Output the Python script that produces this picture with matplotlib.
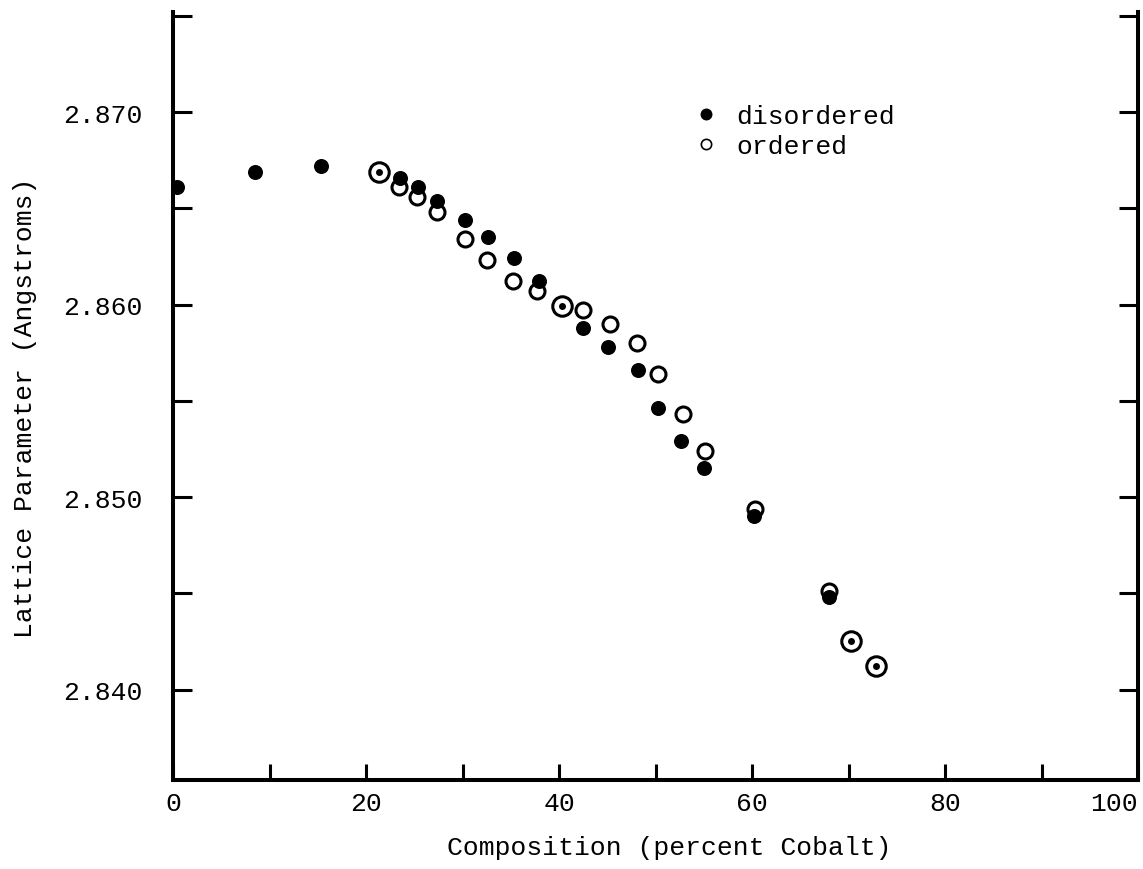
import matplotlib.pyplot as plt
from matplotlib.lines import Line2D

plt.rcParams['font.family'] = ['Liberation Mono', 'DejaVu Sans Mono']

# composition (percent Cobalt) / lattice parameter (Angstroms)
dis_x = [0.4, 8.5, 15.3, 23.5, 25.4, 27.4, 30.3, 32.6, 35.3, 37.9, 42.5,
         45.1, 48.2, 50.3, 52.6, 55.0, 60.2, 68.0]
dis_y = [2.8661, 2.8669, 2.8672, 2.8666, 2.8661, 2.8654, 2.8644, 2.8635,
         2.8624, 2.8612, 2.8588, 2.8578, 2.8566, 2.8546, 2.8529, 2.8515,
         2.8490, 2.8448]

ord_x = [23.4, 25.3, 27.3, 30.3, 32.5, 35.2, 37.7, 42.5, 45.3, 48.1, 50.3,
         52.8, 55.1, 60.3, 68.0]
ord_y = [2.8661, 2.8656, 2.8648, 2.8634, 2.8623, 2.8612, 2.8607, 2.8597,
         2.8590, 2.8580, 2.8564, 2.8543, 2.8524, 2.8494, 2.8451]

# points where ordered and disordered coincide
both_x = [21.3, 40.3, 70.2, 72.8]
both_y = [2.8669, 2.8599, 2.8425, 2.8412]

xticks = [0, 10, 20, 30, 40, 50, 60, 70, 80, 90, 100]
xlabels = ['0', '', '20', '', '40', '', '60', '', '80', '', '100']
yticks = [2.840, 2.845, 2.850, 2.855, 2.860, 2.865, 2.870, 2.875]
ylabels = ['2.840', '', '2.850', '', '2.860', '', '2.870', '']

fig = plt.figure(figsize=(11.43, 8.70), dpi=100)
ax = fig.add_axes([0.1514, 0.1023, 0.8443, 0.8828])

# open first, filled drawn over them
ax.plot(ord_x, ord_y, 'o', ms=10.8, mfc='white', mec='black', mew=2.2, ls='none')
ax.plot(dis_x, dis_y, 'o', ms=10.8, mfc='black', mec='black', mew=0, ls='none')
ax.plot(both_x, both_y, 'o', ms=14, mfc='white', mec='black', mew=2.2, ls='none')
ax.plot(both_x, both_y, 'o', ms=5, mfc='black', mec='black', mew=0, ls='none')

ax.set_xlim(0, 100)
ax.set_ylim(2.8353, 2.8752)

ax.set_xticks(xticks)
ax.set_xticklabels(xlabels)
ax.set_yticks(yticks)
ax.set_yticklabels(ylabels)
ax.get_xticklabels()[-1].set_ha('right')

ax.spines['top'].set_visible(False)
for s in ['left', 'right', 'bottom']:
    ax.spines[s].set_linewidth(2.9)

ax.tick_params(axis='y', direction='in', length=14, width=2.2, left=True,
               right=True, labelsize=19, pad=22)
ax.tick_params(axis='x', direction='in', length=11.5, width=2.2,
               labelsize=19, pad=8)

ax.set_xlabel('Composition (percent Cobalt)', fontsize=19, va='center')
ax.xaxis.set_label_coords(0.514, -0.087)
ax.set_ylabel('Lattice Parameter (Angstroms)', fontsize=19, va='center')
ax.yaxis.set_label_coords(-0.153, 0.486)

handles = [
    Line2D([], [], marker='o', ls='none', ms=8.6, mfc='black', mec='black', mew=0),
    Line2D([], [], marker='o', ls='none', ms=7.4, mfc='white', mec='black', mew=1.2),
]
ax.legend(handles, ['disordered', 'ordered'], loc='upper left',
          bbox_to_anchor=(0.539, 0.880), frameon=False, fontsize=19,
          handlelength=1.0, handletextpad=0.65, labelspacing=0.24,
          borderpad=0, borderaxespad=0)

plt.savefig('out.png', dpi=100)
